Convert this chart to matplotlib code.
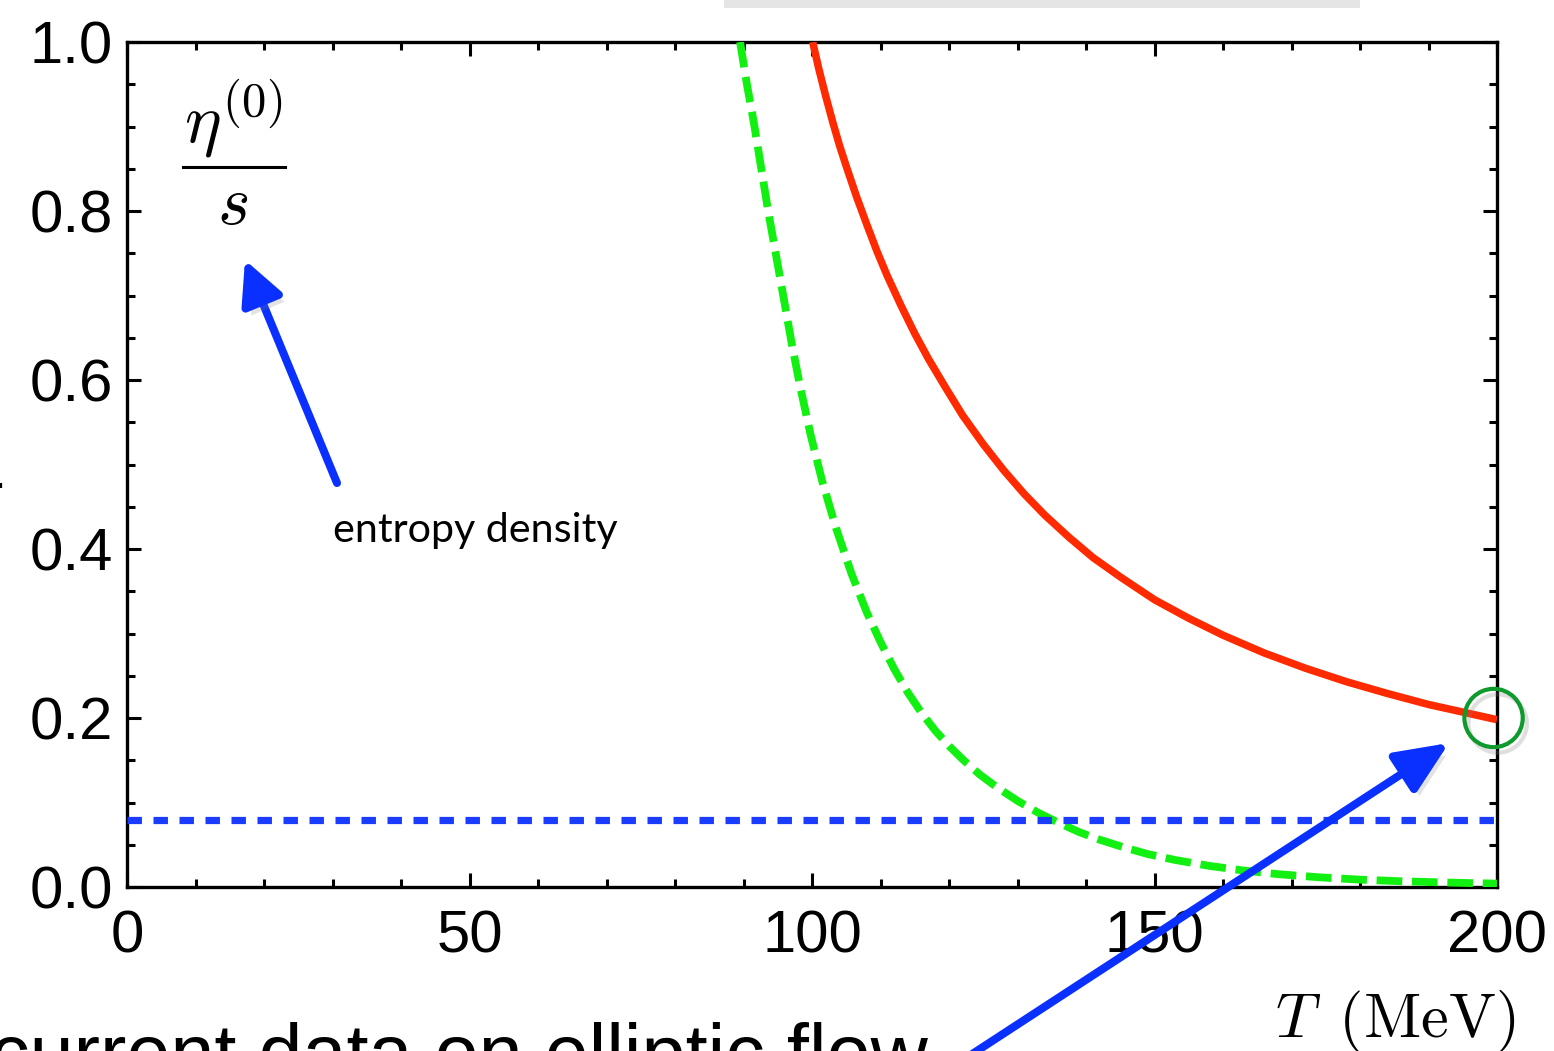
import matplotlib
matplotlib.use("Agg")
import matplotlib.pyplot as plt
from matplotlib.patches import FancyArrowPatch, Rectangle
from matplotlib.lines import Line2D
from matplotlib.ticker import MultipleLocator
import matplotlib.patheffects as pe

# ---------------- data ----------------
T_red = [100.1, 101.0, 102.0, 103.0, 104.0, 105.0, 106.5, 108.0, 109.5, 111.0,
         113.0, 115.0, 117.0, 119.5, 122.0, 125.0, 128.0, 131.0, 134.0, 137.5,
         141.0, 145.0, 150.0, 155.0, 160.0, 166.0, 172.0, 178.0, 184.0, 190.0,
         195.0, 200.0]
eta_red = [1.0, 0.968, 0.936, 0.906, 0.878, 0.853, 0.817, 0.784, 0.752, 0.723,
           0.688, 0.655, 0.625, 0.591, 0.558, 0.524, 0.493, 0.465, 0.440, 0.414,
           0.390, 0.367, 0.340, 0.318, 0.298, 0.277, 0.259, 0.243, 0.229, 0.216,
           0.207, 0.198]

T_green = [89.5, 90.5, 91.5, 92.5, 93.6, 94.7, 95.8, 97.0, 98.2, 99.8, 101.5,
           103.5, 105.8, 108.0, 110.0, 112.0, 114.0, 116.0, 118.0, 120.0, 122.0,
           124.5, 127.0, 130.0, 133.0, 136.0, 139.0, 142.0, 145.5, 149.0, 153.0,
           158.0, 163.0, 168.0, 174.0, 180.0, 186.0, 193.0, 200.0]
eta_green = [1.0, 0.95, 0.905, 0.855, 0.80, 0.75, 0.70, 0.645, 0.595, 0.535, 0.48,
             0.425, 0.37, 0.325, 0.29, 0.258, 0.23, 0.206, 0.185, 0.167, 0.151,
             0.133, 0.118, 0.102, 0.088, 0.076, 0.065, 0.056, 0.047, 0.039, 0.032,
             0.025, 0.0195, 0.0152, 0.0115, 0.0087, 0.0068, 0.0052, 0.0040]

kss_bound = 0.0796          # horizontal dotted line
circle_point = (199.5, 0.2)  # highlighted point

x_ticks = [0, 50, 100, 150, 200]
y_ticks = [0.0, 0.2, 0.4, 0.6, 0.8, 1.0]
x_ticklabels = ["0", "50", "100", "150", "200"]
y_ticklabels = ["0.0", "0.2", "0.4", "0.6", "0.8", "1.0"]

# ---------------- figure ----------------
plt.rcParams['mathtext.fontset'] = 'cm'
W, H = 1554, 1051
fig = plt.figure(figsize=(W / 100, H / 100), dpi=100)
ax = fig.add_axes([127 / W, 1 - 887 / H, (1497 - 127) / W, (887 - 42) / H])

ax.plot(T_red, eta_red, color='#ff2a00', lw=5.4, solid_capstyle='butt',
        solid_joinstyle='round', zorder=3)
ax.plot(T_green, eta_green, color='#11f011', lw=5.6, dashes=(3.3, 1.25), zorder=3)
ax.axhline(kss_bound, color='#1a3cff', lw=5.2, dashes=(2.0, 1.6), zorder=3)

ax.plot([circle_point[0]], [circle_point[1]], marker='o', ms=42, mfc='none',
        mec='#0f9a2e', mew=3, clip_on=False, zorder=5,
        path_effects=[pe.SimpleLineShadow(offset=(3, -4), shadow_color='gray', alpha=0.25),
                      pe.Normal()])

ax.set_xlim(0, 200)
ax.set_ylim(0, 1.0)
ax.set_xticks(x_ticks)
ax.set_xticklabels(x_ticklabels)
ax.set_yticks(y_ticks)
ax.set_yticklabels(y_ticklabels)
ax.xaxis.set_minor_locator(MultipleLocator(10))
ax.yaxis.set_minor_locator(MultipleLocator(0.05))
ax.tick_params(which='both', direction='in', top=True, right=True, width=2.2,
               labelsize=43)
ax.tick_params(axis='x', which='both', pad=16)
ax.tick_params(axis='y', which='both', pad=10)
ax.tick_params(which='major', length=10)
ax.tick_params(which='minor', length=5.5)
for lab in ax.get_xticklabels() + ax.get_yticklabels():
    lab.set_family(['Liberation Sans', 'DejaVu Sans'])
for s in ax.spines.values():
    s.set_linewidth(2.4)

# y label as a stacked fraction: numerator, bar, denominator
fig.text(233 / W, 1 - 142 / H, r'$\eta^{(0)}$', fontsize=50,
         ha='center', va='baseline')
fig.add_artist(Line2D([183 / W, 285 / W], [1 - 167 / H, 1 - 167 / H],
                      transform=fig.transFigure, color='black', lw=2.2))
fig.text(233 / W, 1 - 224 / H, r'$s$', fontsize=50, ha='center', va='baseline')

fig.text(1515 / W, 1 - 1037 / H, r'$T\ \,(\mathrm{MeV})$', fontsize=45,
         ha='right', va='baseline')
fig.text(333 / W, 1 - 542 / H, 'entropy density', fontsize=29.7,
         family=['Lato', 'DejaVu Sans'], ha='left', va='baseline')
fig.text(928 / W, 1 - 1080 / H, 'current data on elliptic flow', fontsize=57,
         family=['Liberation Sans', 'DejaVu Sans'], ha='right', va='baseline')
fig.text(0 / W, 1 - 488 / H, '.', fontsize=28, ha='center', va='baseline')

# top gray strip
fig.add_artist(Rectangle((724 / W, 1 - 8 / H), (1360 - 724) / W, 8 / H,
                         transform=fig.transFigure, color='#e5e5e5', lw=0))

shadow = [pe.SimplePatchShadow(offset=(4, -5), shadow_rgbFace='gray', alpha=0.22),
          pe.Normal()]
# arrows (figure pixel coordinates, origin bottom-left)
a1 = FancyArrowPatch((337, H - 483), (245, H - 260), transform=None,
                     arrowstyle='-|>,head_length=26,head_width=13', mutation_scale=1,
                     color='#0a30ff', lw=5.8, shrinkA=0, shrinkB=0, zorder=6,
                     path_effects=shadow)
fig.add_artist(a1)
a2 = FancyArrowPatch((960, H - 1062), (1449, H - 743), transform=None,
                     arrowstyle='-|>,head_length=32,head_width=14', mutation_scale=1,
                     color='#0a30ff', lw=5.8, shrinkA=0, shrinkB=0, zorder=6,
                     path_effects=shadow)
fig.add_artist(a2)

fig.savefig('out.png', dpi=100)
